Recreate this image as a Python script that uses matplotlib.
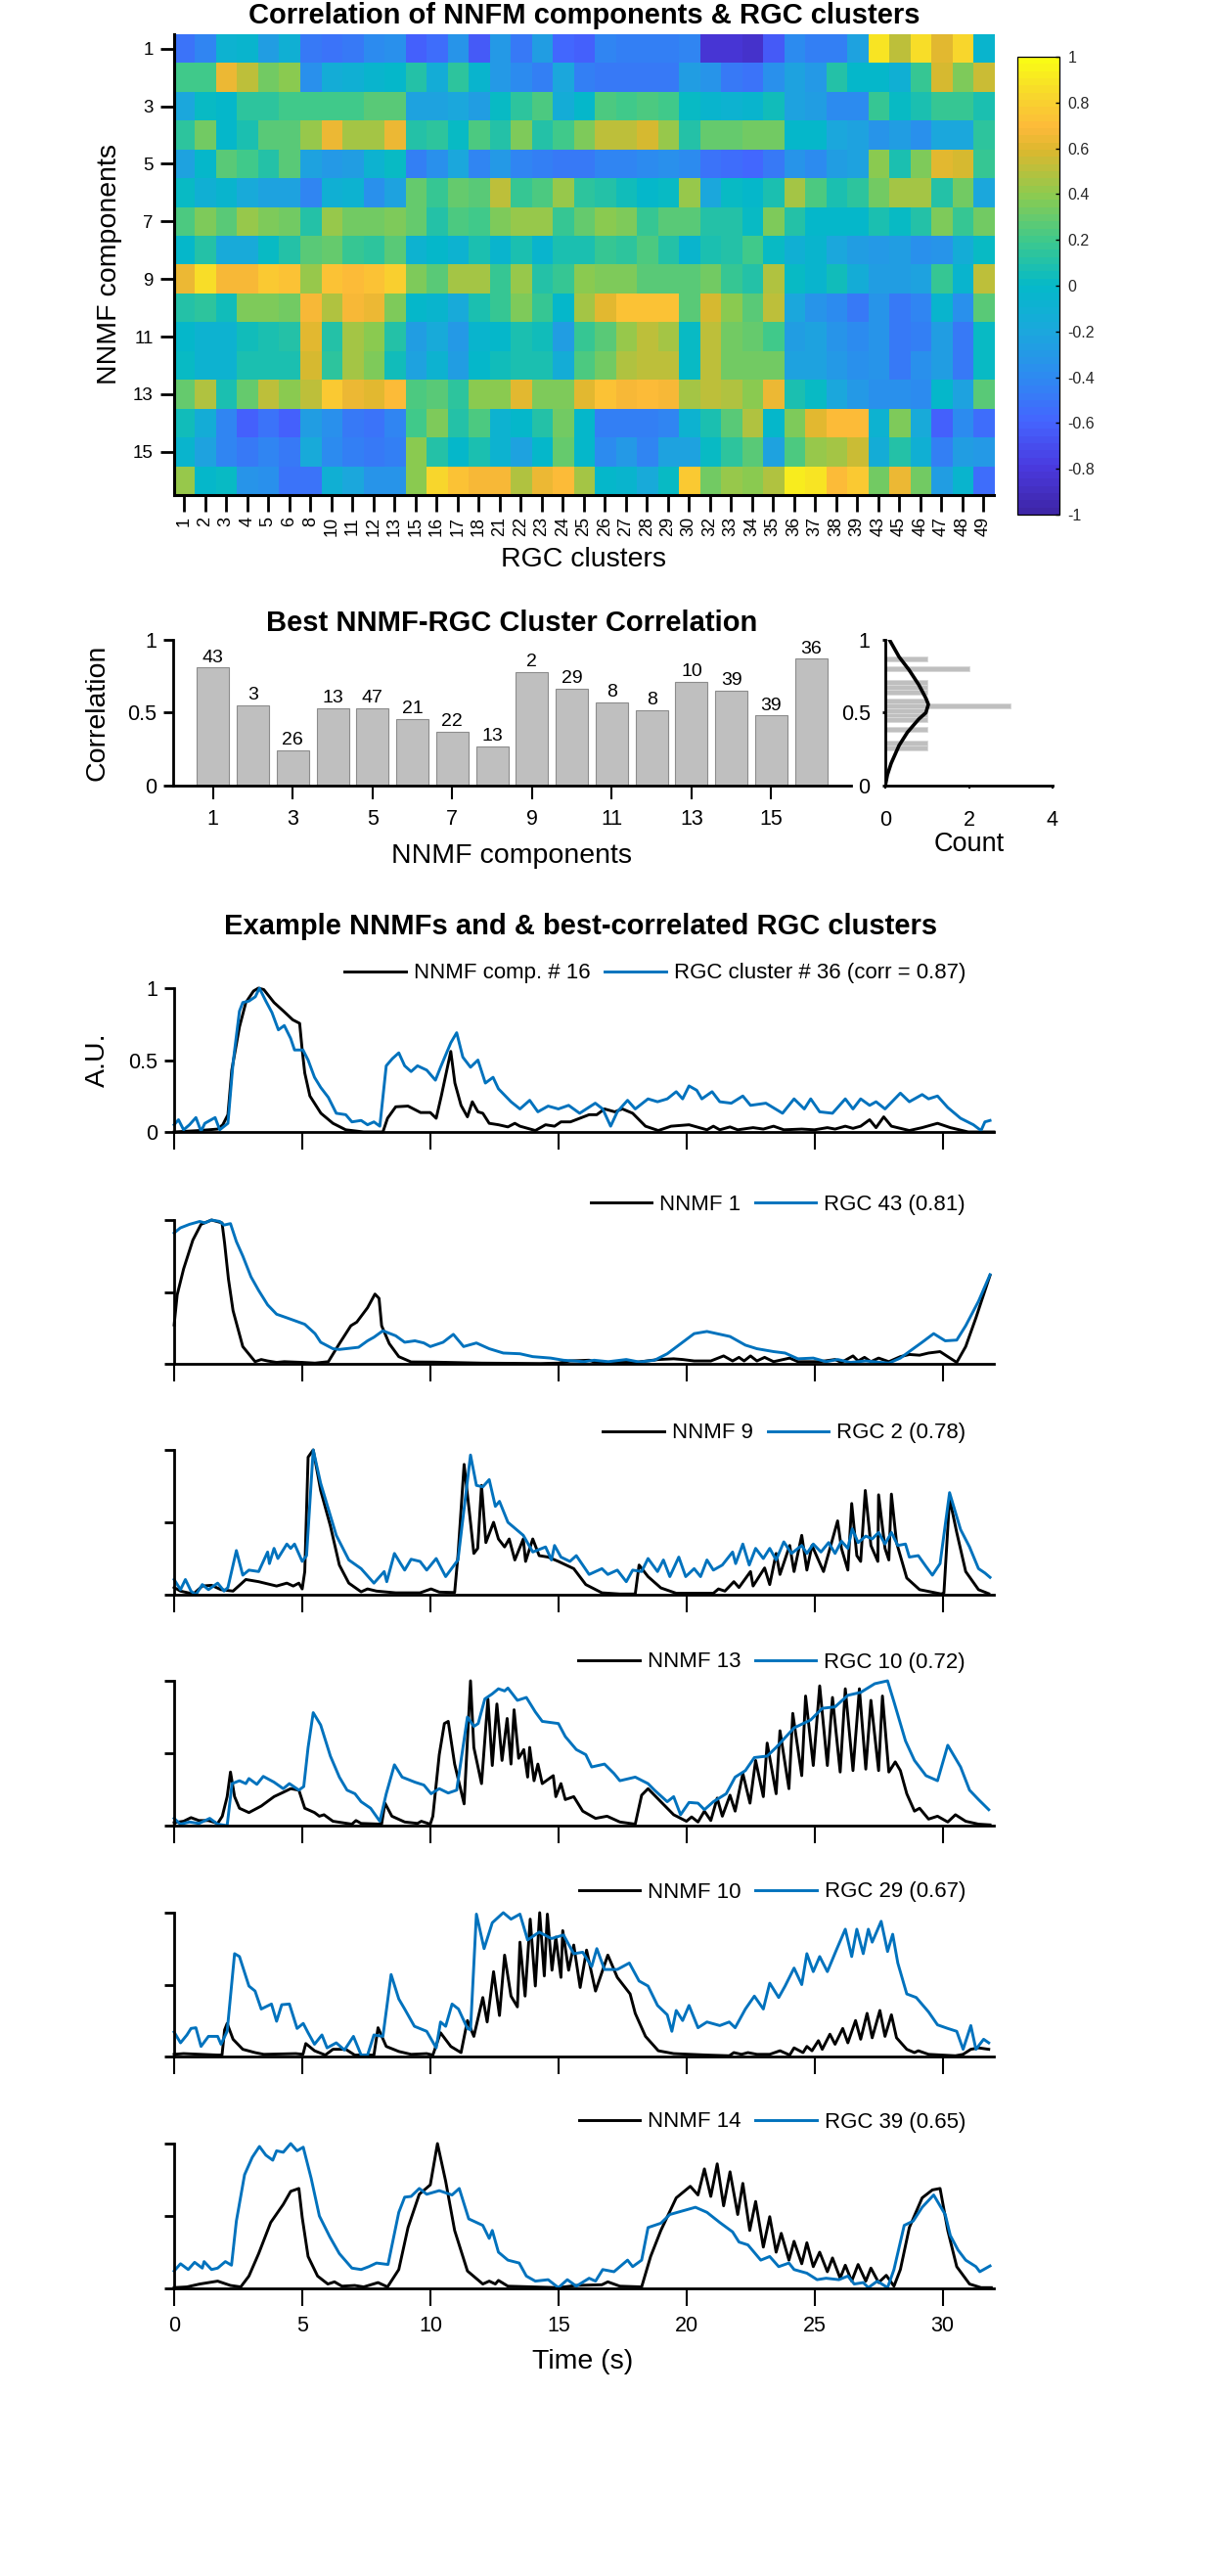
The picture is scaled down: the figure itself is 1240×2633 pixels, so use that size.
import numpy as np
import matplotlib
matplotlib.use("Agg")
import matplotlib.pyplot as plt
from matplotlib.colors import LinearSegmentedColormap

plt.rcParams['font.family'] = ['Liberation Sans', 'DejaVu Sans']

W, H = 1240, 2633
BLUE = '#0072BD'

# ==================== DATA ====================
rgc_clusters = [1, 2, 3, 4, 5, 6, 8, 10, 11, 12, 13, 15, 16, 17, 18, 21, 22, 23, 24, 25,
                26, 27, 28, 29, 30, 32, 33, 34, 35, 36, 37, 38, 39, 43, 45, 46, 47, 48, 49]

corr_rows = [
    [-.52, -.42, -.08, -.05, -.27, -.1, -.48, -.52, -.5, -.4, -.35, -.62, -.55, -.33, -.65, -.3, -.5, -.27, -.58, -.62, -.43, -.46, -.46, -.44, -.43, -.82, -.83, -.85, -.63, -.4, -.45, -.45, -.25, .88, .5, .87, .62, .83, -.06],
    [.2, .2, .64, .52, .33, .4, -.35, -.15, -.1, -.05, -.03, .1, -.15, .15, -.05, -.3, -.38, -.45, -.2, -.45, -.48, -.5, -.5, -.5, -.28, -.33, -.48, -.53, -.35, -.22, -.3, .12, -.02, -.03, -.1, .17, .57, .35, .56],
    [-.2, .02, -.03, .13, .15, .2, .2, .2, .2, .25, .28, -.25, -.22, -.2, -.28, .03, .15, .22, -.15, -.02, .24, .2, .24, .2, 0, -.05, -.08, -.06, .05, -.25, -.27, -.38, -.38, .18, 0, .08, .17, .17, .08],
    [.13, .34, -.02, .08, .27, .27, .42, .63, .45, .45, .63, .1, .14, .03, .24, .12, .35, .1, .2, .35, .53, .5, .58, .42, .12, .3, .3, .33, .32, -.02, -.02, -.2, -.22, -.33, -.27, -.36, -.2, -.2, .15],
    [-.25, -.02, .28, .2, .1, .27, -.22, -.3, -.28, -.08, 0, -.45, -.37, -.2, -.42, -.3, -.42, -.45, -.48, -.5, -.43, -.42, -.4, -.37, -.38, -.53, -.55, -.58, -.5, -.33, -.4, -.27, -.25, .38, .08, .37, .62, .57, .18],
    [.03, -.1, -.06, -.17, -.25, -.22, -.42, -.1, -.07, -.35, -.25, .3, .17, .3, .26, .52, .17, .22, .42, .15, .1, .05, -.02, .03, .42, -.2, 0, -.02, .07, .45, .22, .08, .14, .33, .45, .45, .1, .33, -.2],
    [.23, .37, .25, .41, .37, .33, .1, .41, .34, .34, .37, .3, .1, .22, .2, .37, .41, .43, .18, .3, .4, .35, .18, .28, .28, .1, .1, 0, .35, .1, -.02, -.02, -.03, .08, .03, .12, .36, .18, .34],
    [-.03, .1, -.18, -.18, .02, .1, .27, .3, .18, .13, .28, -.07, -.02, -.08, .08, -.04, .08, -.05, .08, .08, .18, .13, .24, .1, -.05, .07, .12, .2, .03, -.1, -.04, -.2, -.27, -.3, -.27, -.35, -.33, -.15, .02],
    [.64, .85, .68, .66, .76, .72, .42, .72, .7, .72, .8, .37, .26, .44, .44, .18, .42, .12, .18, .38, .35, .35, .27, .28, .25, .33, .18, .1, .47, .02, -.05, .05, -.15, -.28, -.27, -.22, .18, -.06, .52],
    [.1, .14, .05, .37, .37, .33, .68, .47, .66, .63, .36, -.02, -.06, -.18, .07, .18, .37, .18, -.02, .45, .62, .72, .72, .72, .26, .58, .38, .28, .5, -.2, -.32, -.38, -.47, -.33, -.5, -.42, -.05, -.35, .25],
    [-.03, -.08, -.08, .04, .08, .1, .62, .12, .44, .38, .1, -.28, -.18, -.3, -.04, -.02, .07, .05, -.28, .18, .25, .42, .5, .46, .03, .5, .33, .31, .2, -.27, -.22, -.33, -.38, -.32, -.5, -.44, -.27, -.5, .03],
    [0, -.08, -.08, .07, .07, .07, .57, .13, .44, .35, .06, -.22, -.08, -.28, -.03, .04, .07, .07, -.15, .24, .33, .48, .51, .5, .03, .5, .33, .33, .33, -.22, -.22, -.3, -.35, -.33, -.47, -.35, -.28, -.47, .03],
    [.3, .49, .07, .3, .53, .38, .53, .75, .63, .6, .7, .22, .25, .13, .38, .38, .6, .35, .35, .62, .74, .66, .7, .67, .45, .52, .48, .4, .63, .07, 0, -.2, -.3, -.37, -.35, -.38, -.03, -.25, .27],
    [.05, -.15, -.42, -.6, -.52, -.6, -.28, -.37, -.47, -.52, -.42, .2, .36, .12, .22, -.07, -.02, .12, .33, -.02, -.45, -.45, -.45, -.42, -.07, .08, .25, .48, -.03, .35, .62, .7, .7, -.08, .36, -.18, -.6, -.4, -.55],
    [-.06, -.25, -.42, -.5, -.42, -.47, -.17, -.4, -.45, -.5, -.45, .4, .12, -.02, .07, -.07, -.25, -.02, .3, -.02, -.38, -.3, -.42, -.25, -.25, .02, .14, .27, -.22, .22, .42, .44, .55, -.13, .12, -.12, -.45, -.28, -.3],
    [.43, -.02, 0, -.33, -.37, -.53, -.52, -.1, -.2, -.32, -.33, .4, .83, .74, .67, .67, .47, .63, .7, .44, -.02, -.04, -.18, 0, .75, .32, .42, .4, .48, .93, .9, .7, .76, .32, .63, .32, -.28, -.04, -.55],
]

# colorbar levels
cbar_levels = [-1, -.8, -.6, -.4, -.2, 0, .2, .4, .6, .7, .85, 1]
cbar_colors = ['#3e26a8', '#4a3ae0', '#4465ff', '#2d8bf0', '#1ba8dc', '#04b9c9',
               '#3ec98c', '#8ccb50', '#dcb82e', '#fdb93a', '#f8d82c', '#f9fb15']

best_corr = [.81, .55, .24, .53, .53, .455, .37, .27, .78, .665, .57, .52, .71, .65, .48, .87]
best_labels = [43, 3, 26, 13, 47, 21, 22, 13, 2, 29, 8, 8, 10, 39, 39, 36]

hist_centers = [.26, .293, .383, .45, .483, .516, .546, .58, .642, .675, .708, .805, .87]
hist_counts = [1, 1, 1, 1, 1, 1, 3, 1, 1, 1, 1, 2, 1]
kde_count = [.1, .33, .57, .8, .97, 1.03, .97, .8, .53, .33, .14, .05, 0]
kde_y = [1.0, .883, .793, .692, .6, .557, .5, .456, .366, .276, .153, .074, 0]

nnmf16 = [(0, 0), (1, .01), (1.7, .02), (1.9, .05), (2.1, .12), (2.25, .43), (2.55, .73), (2.8, .9), (3.1, .98), (3.29, 1), (3.5, .99), (3.9, .9), (4.27, .84), (4.63, .78), (4.9, .755), (5, .57), (5.1, .41), (5.3, .25), (5.73, .13), (6.2, .06), (6.7, .015), (7.4, 0), (8.15, 0), (8.33, .095), (8.65, .175), (9.13, .18), (9.62, .135), (10, .135), (10.23, .095), (10.43, .25), (10.8, .56), (10.96, .34), (11.2, .185), (11.45, .105), (11.64, .21), (11.86, .14), (12.05, .13), (12.3, .06), (12.66, .05), (13.03, .035), (13.3, .06), (13.5, .04), (14.1, .01), (14.5, .05), (14.85, .04), (15.1, .07), (15.47, .07), (16.2, .12), (16.5, .12), (16.8, .16), (17.2, .14), (17.5, .16), (17.9, .13), (18.4, .04), (18.9, .01), (19.4, .04), (20.1, .05), (20.8, .015), (21.05, .04), (21.3, .015), (21.7, .035), (22, .015), (22.6, .03), (23, .02), (23.4, .04), (23.8, .015), (24.5, .02), (25, .015), (25.5, .03), (25.8, .02), (26.2, .04), (26.5, .025), (26.8, .04), (27.15, .085), (27.4, .03), (27.7, .105), (28, .04), (28.7, .01), (29.2, .03), (29.8, .06), (30.3, .03), (31, 0), (32, 0)]
rgc36 = [(0, .05), (.17, .085), (.37, .015), (.6, .05), (.85, .1), (1.05, .005), (1.2, .06), (1.6, .1), (1.78, .015), (2.1, .06), (2.3, .48), (2.55, .84), (2.68, .9), (2.92, .91), (3.17, .94), (3.33, 1), (3.58, .91), (3.82, .83), (4.07, .71), (4.3, .74), (4.55, .65), (4.7, .57), (5.03, .57), (5.23, .5), (5.48, .38), (5.72, .31), (6.02, .24), (6.33, .13), (6.7, .12), (6.94, .07), (7.3, .08), (7.55, .05), (7.8, .07), (8.03, .04), (8.28, .46), (8.52, .51), (8.77, .55), (9, .46), (9.25, .42), (9.5, .46), (9.86, .43), (10.2, .36), (10.4, .45), (10.8, .62), (11.03, .69), (11.27, .52), (11.57, .45), (11.86, .5), (12.15, .34), (12.45, .38), (12.66, .3), (13.15, .21), (13.5, .16), (13.88, .22), (14.2, .14), (14.6, .18), (15, .16), (15.4, .185), (15.83, .13), (16.44, .2), (16.73, .16), (17.04, .04), (17.3, .14), (17.7, .22), (18, .16), (18.5, .23), (18.87, .21), (19.25, .23), (19.6, .28), (19.85, .23), (20.1, .32), (20.4, .29), (20.6, .23), (21, .28), (21.3, .21), (21.75, .2), (22.2, .25), (22.5, .185), (23.1, .2), (23.75, .13), (24.2, .23), (24.6, .16), (24.85, .23), (25.2, .14), (25.7, .13), (26.2, .23), (26.5, .16), (26.8, .23), (27.15, .185), (27.4, .21), (27.75, .16), (28.35, .27), (28.7, .21), (29.2, .26), (29.45, .23), (29.8, .25), (30.2, .17), (30.7, .095), (31.2, .05), (31.5, .01), (31.65, .07), (31.85, .08)]

nnmf1 = [(0, .27), (.12, .48), (.37, .66), (.73, .86), (1.05, .97), (1.46, 1), (1.87, .98), (1.97, .84), (2.12, .59), (2.3, .37), (2.68, .12), (3.16, .015), (3.4, .03), (3.65, .02), (4, .01), (4.3, .015), (5, .01), (5.5, .005), (6.02, .015), (6.45, .14), (6.9, .265), (7.13, .29), (7.55, .39), (7.84, .485), (8, .455), (8.1, .265), (8.4, .14), (8.77, .05), (9.25, .013), (10.1, .012), (12, .005), (14.3, .002), (15, .005), (15.45, .02), (16.2, .025), (16.4, .013), (17, .01), (18, .01), (18.9, .03), (19.5, .035), (19.85, .03), (20.3, .02), (20.95, .02), (21.45, .055), (21.8, .02), (22.05, .045), (22.25, .02), (22.5, .055), (22.75, .02), (23.05, .045), (23.4, .015), (24.03, .04), (24.35, .015), (25.2, .015), (25.8, .03), (26.05, .01), (26.5, .055), (26.7, .02), (26.95, .045), (27.2, .015), (27.5, .04), (27.9, .015), (28.35, .05), (28.7, .065), (29.1, .06), (29.45, .075), (29.9, .085), (30.2, .05), (30.55, .01), (30.9, .12), (31.3, .32), (31.55, .455), (31.85, .615)]
rgc43 = [(0, .91), (.24, .945), (.6, .97), (1, .99), (1.2, .98), (1.46, 1), (1.78, .99), (1.95, .965), (2.2, .975), (2.43, .85), (2.68, .75), (3, .605), (3.3, .51), (3.65, .41), (4, .345), (4.4, .32), (5.1, .275), (5.5, .21), (5.72, .15), (6.2, .105), (6.45, .1), (7.2, .115), (7.55, .16), (7.8, .185), (8.15, .23), (8.65, .195), (9, .15), (9.4, .16), (9.75, .145), (10, .12), (10.5, .15), (10.9, .205), (11.3, .12), (11.8, .145), (12.3, .105), (12.85, .075), (13.5, .07), (14, .05), (14.7, .04), (15.2, .025), (16, .015), (16.4, .025), (16.95, .015), (17.65, .03), (18.15, .013), (18.75, .025), (19.25, .07), (19.85, .15), (20.3, .21), (20.8, .225), (21.7, .19), (22.3, .13), (22.75, .105), (23.4, .085), (23.85, .075), (24.35, .035), (24.95, .04), (25.45, .015), (25.9, .03), (26.4, .01), (27, .02), (27.9, .005), (28.35, .04), (28.85, .105), (29.2, .15), (29.65, .21), (30.1, .16), (30.55, .165), (30.9, .265), (31.4, .435), (31.85, .62)]

nnmf9 = [(0, .05), (.25, .025), (.75, .005), (1.1, .06), (1.46, .065), (1.83, .035), (2.3, .025), (2.8, .105), (3.3, .09), (4, .06), (4.4, .08), (4.65, .06), (4.87, .08), (5, .04), (5.1, .16), (5.23, .95), (5.43, 1), (5.72, .72), (6.1, .475), (6.45, .205), (6.82, .08), (7.3, .02), (7.55, .04), (7.9, .025), (8.65, .013), (9.6, .013), (10.03, .04), (10.35, .018), (10.95, .015), (11.08, .27), (11.32, .9), (11.57, .5), (11.7, .285), (11.85, .32), (12, .755), (12.17, .36), (12.47, .5), (12.66, .385), (12.9, .33), (13.08, .385), (13.3, .24), (13.63, .385), (13.72, .23), (14, .385), (14.25, .27), (14.6, .26), (15, .23), (15.6, .18), (16.07, .07), (16.7, .013), (17.4, .005), (18, .005), (18.15, .205), (18.5, .125), (19, .047), (19.6, .01), (21.05, .01), (21.25, .04), (21.5, .025), (21.85, .09), (22.05, .05), (22.5, .16), (22.6, .06), (23.05, .185), (23.25, .07), (23.5, .285), (23.65, .14), (24.03, .34), (24.2, .16), (24.5, .41), (24.7, .17), (24.9, .34), (25.35, .16), (25.9, .51), (26.05, .32), (26.3, .17), (26.45, .63), (26.65, .27), (26.8, .23), (26.98, .72), (27.2, .34), (27.47, .23), (27.5, .69), (27.75, .32), (27.9, .24), (28, .695), (28.2, .36), (28.6, .115), (29.1, .035), (29.95, .005), (30.05, .013), (30.27, .665), (30.55, .43), (30.9, .16), (31.4, .035), (31.8, .007)]
rgc2 = [(0, .105), (.25, .035), (.44, .105), (.66, .025), (.85, 0), (1.1, .07), (1.34, .035), (1.7, .08), (1.95, .025), (2.1, .05), (2.43, .305), (2.68, .135), (2.92, .17), (3.3, .16), (3.65, .295), (3.72, .215), (3.9, .32), (4.05, .25), (4.4, .35), (4.55, .32), (4.7, .35), (5, .23), (5.17, .27), (5.43, 1), (5.72, .77), (6.33, .41), (6.82, .24), (7.3, .18), (7.8, .08), (8.2, .16), (8.3, .09), (8.6, .285), (8.84, .215), (9, .17), (9.25, .245), (9.6, .23), (9.86, .17), (10.23, .25), (10.6, .125), (11.08, .24), (11.57, .965), (11.8, .755), (12.05, .745), (12.3, .795), (12.54, .61), (12.7, .645), (13.03, .5), (13.63, .41), (14, .295), (14.5, .33), (14.73, .24), (14.85, .34), (15.1, .26), (15.45, .23), (15.7, .27), (16.2, .14), (16.7, .18), (16.93, .14), (17.3, .17), (17.65, .09), (17.9, .17), (18.25, .16), (18.5, .25), (18.87, .16), (19.1, .24), (19.35, .125), (19.7, .26), (19.97, .125), (20.3, .18), (20.55, .125), (20.8, .24), (21.05, .17), (21.4, .205), (21.8, .295), (21.92, .215), (22.2, .35), (22.45, .205), (22.7, .32), (23, .25), (23.25, .32), (23.5, .24), (23.8, .365), (24.1, .285), (24.5, .34), (24.7, .285), (24.95, .35), (25.25, .295), (25.55, .36), (25.8, .285), (26.05, .37), (26.3, .32), (26.47, .455), (26.7, .36), (27, .405), (27.25, .385), (27.5, .43), (27.75, .35), (28, .43), (28.25, .34), (28.55, .35), (28.7, .26), (29.05, .27), (29.35, .195), (29.6, .135), (29.9, .215), (30.27, .705), (30.7, .45), (31.05, .33), (31.4, .18), (31.65, .15), (31.85, .12)]

nnmf13 = [(0, .02), (.37, .03), (.66, .055), (.97, .035), (1.34, .035), (1.7, .015), (1.88, .065), (2.07, .2), (2.2, .37), (2.36, .2), (2.55, .12), (2.92, .09), (3.4, .135), (3.9, .2), (4.26, .23), (4.55, .255), (4.87, .245), (5.1, .12), (5.48, .09), (5.67, .065), (5.85, .075), (6.2, .03), (6.94, .01), (7.1, .035), (7.3, .015), (8.1, .01), (8.23, .155), (8.5, .065), (9, .025), (9.5, .015), (9.65, .03), (10, .01), (10.1, .065), (10.35, .49), (10.55, .705), (10.7, .72), (10.95, .425), (11.32, .15), (11.57, 1), (11.7, .54), (12, .29), (12.25, .875), (12.42, .415), (12.6, .84), (12.8, .45), (13, .74), (13.15, .425), (13.27, .8), (13.45, .465), (13.65, .525), (13.8, .335), (13.88, .54), (14.05, .31), (14.2, .425), (14.37, .29), (14.8, .345), (14.9, .2), (15.1, .29), (15.27, .18), (15.6, .2), (15.95, .1), (16.45, .05), (16.9, .065), (17.4, .025), (18, .01), (18.25, .21), (18.5, .255), (19, .165), (19.5, .075), (20, .03), (20.2, .06), (20.45, .025), (20.7, .1), (20.95, .035), (21.2, .19), (21.4, .065), (21.7, .21), (21.9, .1), (22.2, .36), (22.48, .155), (22.7, .45), (23, .2), (23.15, .57), (23.5, .22), (23.65, .655), (24, .255), (24.15, .775), (24.5, .345), (24.65, .895), (24.95, .415), (25.2, .965), (25.5, .415), (25.7, .885), (26, .37), (26.2, .945), (26.5, .38), (26.75, .945), (27, .39), (27.2, .865), (27.5, .38), (27.65, .895), (27.9, .37), (28.15, .44), (28.35, .38), (28.6, .22), (28.9, .1), (29.1, .12), (29.45, .045), (29.8, .065), (30.2, .025), (30.5, .075), (30.9, .03), (31.4, .01), (31.85, .005)]
rgc10 = [(0, .05), (.24, .01), (.6, .025), (.97, .015), (1.39, .05), (1.7, .01), (2.07, 0), (2.26, .29), (2.55, .31), (2.8, .29), (2.92, .325), (3.23, .285), (3.48, .34), (3.9, .3), (4.26, .255), (4.5, .29), (4.87, .245), (5.06, .27), (5.23, .54), (5.43, .78), (5.72, .695), (6.1, .48), (6.45, .335), (6.75, .245), (7.06, .22), (7.3, .165), (7.67, .12), (8.03, .03), (8.28, .22), (8.6, .42), (8.9, .335), (9.4, .3), (9.75, .28), (10.03, .22), (10.35, .255), (10.7, .225), (11.03, .245), (11.45, .75), (11.7, .685), (11.87, .705), (12.13, .875), (12.42, .91), (12.66, .945), (12.9, .93), (13.03, .95), (13.4, .865), (13.75, .885), (14.1, .785), (14.37, .72), (15, .705), (15.27, .615), (15.7, .525), (16.07, .49), (16.3, .405), (16.8, .425), (17.17, .36), (17.4, .31), (18, .335), (18.5, .29), (18.75, .245), (19.25, .165), (19.5, .2), (19.77, .075), (20.1, .16), (20.45, .155), (20.7, .11), (21.05, .165), (21.55, .22), (21.9, .335), (22.3, .38), (22.65, .47), (23.15, .48), (23.5, .54), (24.2, .675), (24.85, .73), (25.3, .81), (25.8, .82), (26.3, .9), (26.8, .92), (27.35, .98), (27.85, 1), (28.1, .855), (28.55, .585), (28.9, .45), (29.35, .345), (29.8, .31), (30.2, .555), (30.7, .405), (31.05, .245), (31.4, .18), (31.8, .11)]

nnmf10 = [(0, .015), (.37, .02), (1.7, .01), (1.87, .01), (1.97, .185), (2.07, .23), (2.3, .12), (2.68, .05), (3.16, .027), (3.5, .015), (4.75, .02), (5.03, .015), (5.14, .09), (5.48, .04), (5.9, .01), (6.2, .05), (6.7, .05), (7.05, .01), (7.8, .01), (7.96, .2), (8.28, .07), (8.77, .035), (9.25, .015), (9.86, .02), (10.1, .01), (10.4, .165), (10.8, .07), (11.2, .027), (11.45, .25), (11.7, .14), (12.05, .41), (12.22, .24), (12.47, .59), (12.7, .285), (12.9, .705), (13.15, .42), (13.4, .345), (13.5, .795), (13.7, .42), (13.9, .955), (14.1, .49), (14.27, 1), (14.45, .56), (14.57, .99), (14.75, .6), (14.9, .83), (15.1, .55), (15.17, .875), (15.4, .6), (15.6, .775), (15.85, .48), (16.1, .74), (16.45, .455), (16.93, .705), (17.3, .55), (17.8, .435), (18, .3), (18.4, .14), (18.9, .04), (19.5, .02), (20.8, .01), (21.67, .005), (21.85, .027), (22.15, .015), (22.4, .027), (22.75, .015), (23.25, .015), (23.65, .04), (24.03, .01), (24.2, .06), (24.55, .027), (24.7, .07), (24.9, .04), (25.15, .11), (25.3, .05), (25.6, .155), (25.8, .085), (26.1, .195), (26.3, .095), (26.6, .25), (26.8, .12), (27.05, .3), (27.25, .13), (27.55, .32), (27.75, .14), (28, .29), (28.2, .13), (28.6, .05), (28.9, .027), (29.05, .04), (29.45, .015), (30.5, .005), (30.8, .015), (31.1, .05), (31.4, .06), (31.8, .05)]
rgc29 = [(0, .17), (.25, .095), (.5, .15), (.66, .195), (.85, .2), (1.05, .07), (1.34, .14), (1.7, .14), (1.83, .085), (2.07, .175), (2.36, .715), (2.55, .695), (2.92, .49), (3.16, .455), (3.4, .33), (3.8, .365), (4, .245), (4.2, .36), (4.5, .365), (4.8, .195), (5.04, .23), (5.23, .165), (5.48, .085), (5.77, .15), (5.97, .06), (6.33, .095), (6.65, .045), (7, .14), (7.3, .01), (7.55, .01), (7.8, .15), (8.15, .14), (8.47, .57), (8.77, .4), (9, .33), (9.38, .21), (9.86, .175), (10.23, .06), (10.4, .24), (10.6, .21), (10.85, .365), (11.1, .33), (11.45, .195), (11.57, .185), (11.8, .99), (12.1, .75), (12.42, .93), (12.85, 1), (13.15, .955), (13.5, .99), (13.8, .81), (14.25, .865), (14.73, .82), (15.2, .845), (15.6, .715), (15.95, .725), (16.3, .625), (16.5, .75), (16.8, .605), (17.3, .605), (17.77, .65), (18.15, .525), (18.5, .49), (18.87, .355), (19.25, .29), (19.43, .175), (19.6, .32), (19.85, .25), (20.1, .355), (20.45, .2), (20.8, .24), (21.3, .215), (21.67, .24), (21.9, .2), (22.3, .33), (22.65, .42), (23, .33), (23.25, .51), (23.6, .41), (23.85, .49), (24.2, .615), (24.5, .5), (24.7, .715), (24.95, .59), (25.2, .695), (25.5, .59), (25.85, .74), (26.2, .885), (26.45, .695), (26.65, .885), (26.9, .715), (27.1, .885), (27.25, .795), (27.6, .94), (27.85, .73), (28.05, .85), (28.25, .65), (28.6, .435), (28.97, .41), (29.45, .31), (29.8, .22), (30.2, .195), (30.55, .175), (30.8, .05), (31.1, .215), (31.3, .05), (31.6, .12), (31.8, .095)]

nnmf14 = [(0, .005), (.5, .01), (1, .03), (1.7, .05), (2.2, .02), (2.6, .01), (2.92, .085), (3.3, .24), (3.77, .455), (4.26, .58), (4.55, .67), (4.87, .69), (5, .49), (5.23, .22), (5.6, .085), (6, .03), (6.26, .045), (6.55, .015), (7.05, .02), (7.4, .01), (7.96, .04), (8.33, .01), (8.77, .13), (9.13, .42), (9.57, .65), (10, .715), (10.28, 1), (10.6, .74), (10.95, .4), (11.45, .12), (12.05, .03), (12.3, .05), (12.54, .03), (12.66, .055), (13.03, .015), (15, .005), (15.7, .02), (16.7, .025), (16.93, .045), (17.4, .015), (18.25, .01), (18.6, .22), (19, .4), (19.6, .625), (20.15, .705), (20.45, .645), (20.7, .825), (20.95, .635), (21.2, .86), (21.45, .57), (21.7, .805), (22, .51), (22.2, .725), (22.47, .4), (22.7, .6), (23, .285), (23.25, .495), (23.5, .25), (23.7, .38), (24, .195), (24.2, .325), (24.5, .17), (24.7, .315), (24.95, .15), (25.2, .25), (25.5, .115), (25.7, .21), (26, .07), (26.2, .16), (26.45, .05), (26.7, .165), (27, .05), (27.2, .14), (27.5, .04), (27.8, .09), (28.1, .015), (28.35, .13), (28.7, .42), (29.2, .625), (29.6, .68), (29.9, .69), (30.2, .4), (30.55, .15), (31.05, .03), (31.5, .005), (31.9, .005)]
rgc39 = [(0, .12), (.25, .17), (.55, .13), (.8, .18), (1.1, .14), (1.17, .185), (1.46, .13), (1.7, .14), (2, .185), (2.24, .16), (2.43, .465), (2.75, .785), (3.05, .905), (3.33, .98), (3.58, .92), (3.85, .885), (4, .95), (4.26, .94), (4.55, 1), (4.8, .95), (5.04, .975), (5.35, .76), (5.67, .5), (6.08, .355), (6.45, .24), (6.94, .14), (7.3, .13), (7.6, .15), (7.9, .175), (8.35, .165), (8.77, .525), (9, .63), (9.25, .635), (9.57, .69), (9.86, .65), (10.35, .675), (10.85, .645), (11.13, .69), (11.5, .48), (12.05, .435), (12.3, .345), (12.42, .4), (12.66, .25), (13.03, .195), (13.47, .175), (13.75, .085), (14.1, .05), (14.6, .06), (15, .005), (15.35, .06), (15.7, .015), (16.2, .07), (16.45, .05), (16.73, .13), (17.17, .115), (17.7, .195), (17.9, .15), (18.25, .195), (18.5, .42), (19, .45), (19.35, .51), (19.85, .535), (20.35, .56), (20.8, .525), (21.3, .455), (21.8, .39), (22.05, .32), (22.4, .3), (22.9, .195), (23.25, .22), (23.6, .15), (24, .175), (24.2, .13), (24.7, .105), (25.1, .06), (25.45, .07), (25.95, .06), (26.3, .085), (26.55, .03), (26.9, .04), (27.1, .005), (27.45, .05), (27.85, .005), (28.1, .13), (28.5, .435), (28.85, .465), (29.2, .56), (29.65, .645), (30.1, .51), (30.3, .365), (30.6, .265), (30.9, .195), (31.3, .15), (31.45, .115), (31.85, .155)]

panels = [
    (nnmf16, rgc36, 'NNMF comp. # 16', 'RGC cluster # 36 (corr = 0.87)'),
    (nnmf1, rgc43, 'NNMF 1', 'RGC 43 (0.81)'),
    (nnmf9, rgc2, 'NNMF 9', 'RGC 2 (0.78)'),
    (nnmf13, rgc10, 'NNMF 13', 'RGC 10 (0.72)'),
    (nnmf10, rgc29, 'NNMF 10', 'RGC 29 (0.67)'),
    (nnmf14, rgc39, 'NNMF 14', 'RGC 39 (0.65)'),
]
panel_tops = [1010, 1247, 1482, 1718, 1955, 2191]
panel_bottoms = [1157, 1394, 1630, 1866, 2102, 2339]
legend_ys = [995, 1231, 1465, 1699, 1934, 2169]


# ==================== HELPERS ====================
def px_axes(fig, left, top, right, bottom):
    return fig.add_axes([left / W, 1 - bottom / H, (right - left) / W, (bottom - top) / H])


def px_text(fig, x, y, s, **kw):
    kw.setdefault('ha', 'center')
    kw.setdefault('va', 'center')
    fig.text(x / W, 1 - y / H, s, **kw)


def style_axes(ax, xlen=10, ylen=7):
    ax.spines[['top', 'right']].set_visible(False)
    ax.spines[['left', 'bottom']].set_linewidth(2)
    ax.tick_params(axis='x', length=xlen, width=1.5, labelsize=15.5, pad=7)
    ax.tick_params(axis='y', length=ylen, width=2, labelsize=15.5, pad=5)


fig = plt.figure(figsize=(W / 100, H / 100), dpi=100)

# ==================== HEATMAP ====================
cmap = LinearSegmentedColormap.from_list(
    'parula_like', [((v + 1) / 2, c) for v, c in zip(cbar_levels, cbar_colors)], N=64)
corr = np.array(corr_rows)

ax = px_axes(fig, 177.5, 35, 1016, 506)
im = ax.imshow(corr, cmap=cmap, vmin=-1, vmax=1, aspect='auto', interpolation='nearest')
style_axes(ax, 12, 10)
ax.spines[['left', 'bottom']].set_linewidth(2.2)
ax.set_xticks(range(len(rgc_clusters)))
ax.set_xticklabels(rgc_clusters, rotation=90, fontsize=13)
ax.set_yticks(range(0, 16, 2))
ax.set_yticklabels(range(1, 17, 2), fontsize=13.5)
ax.tick_params(axis='x', width=2, pad=4)
ax.tick_params(axis='y', width=2, pad=5)
px_text(fig, 597, 16, 'Correlation of NNFM components & RGC clusters', fontsize=21, fontweight='bold')
px_text(fig, 597, 572, 'RGC clusters', fontsize=20.5)
px_text(fig, 112, 270, 'NNMF components', fontsize=20.5, rotation=90)

cax = px_axes(fig, 1040, 58, 1083, 526)
cb = fig.colorbar(im, cax=cax)
cb.set_ticks(np.arange(-1, 1.01, .2))
cb.set_ticklabels(['-1', '-0.8', '-0.6', '-0.4', '-0.2', '0', '0.2', '0.4', '0.6', '0.8', '1'])
cax.tick_params(direction='in', length=3, width=1, labelsize=11.5, labelcolor='#262626', pad=6)
cb.outline.set_linewidth(.9)

# ==================== BEST CORRELATION BARS ====================
ax = px_axes(fig, 177, 654, 870, 803)
comps = np.arange(1, 17)
ax.bar(comps, best_corr, width=.81, color='#bfbfbf', edgecolor='#8c8c8c', linewidth=.8)
for c, v, lab in zip(comps, best_corr, best_labels):
    ax.text(c, v + .012, str(lab), ha='center', va='bottom', fontsize=14)
ax.set_xlim(0, 17)
ax.set_ylim(0, 1)
ax.set_xticks(range(1, 16, 2))
ax.set_yticks([0, .5, 1])
ax.set_yticklabels(['0', '0.5', '1'])
style_axes(ax)
px_text(fig, 523, 637, 'Best NNMF-RGC Cluster Correlation', fontsize=21, fontweight='bold')
px_text(fig, 523, 875, 'NNMF components', fontsize=20.5)
px_text(fig, 100, 728, 'Correlation', fontsize=20.5, rotation=90)

# histogram of the best correlations
ax = px_axes(fig, 905, 654, 1076, 803)
ax.barh(hist_centers, hist_counts, height=.033, color='#bfbfbf', edgecolor='#d9d9d9', linewidth=.6)
ax.plot(kde_count, kde_y, color='k', linewidth=2.6)
ax.set_xlim(0, 4)
ax.set_ylim(0, 1)
ax.set_xticks([0, 2, 4])
ax.set_yticks([0, .5, 1])
ax.set_yticklabels(['0', '0.5', '1'])
style_axes(ax, 2, 2)
ax.tick_params(axis='x', pad=16)
ax.tick_params(axis='y', pad=9)
px_text(fig, 991, 863, 'Count', fontsize=19.5)

# ==================== EXAMPLE TRACES ====================
px_text(fig, 594, 947, 'Example NNMFs and & best-correlated RGC clusters', fontsize=21, fontweight='bold')

for i, (black, blue, lab_k, lab_b) in enumerate(panels):
    ax = px_axes(fig, 178, panel_tops[i], 1016, panel_bottoms[i])
    tb, yb = zip(*blue)
    tk, yk = zip(*black)
    ax.plot(tk, yk, color='k', linewidth=2.1, label=lab_k, clip_on=False)
    ax.plot(tb, yb, color=BLUE, linewidth=2.1, label=lab_b, clip_on=False)
    ax.set_xlim(0, 32)
    ax.set_ylim(0, 1)
    ax.set_xticks(range(0, 31, 5))
    ax.set_yticks([0, .5, 1])
    style_axes(ax, 13, 7)
    ax.legend(loc='center right', bbox_to_anchor=(987 / W, 1 - legend_ys[i] / H), bbox_transform=fig.transFigure,
              ncol=2, frameon=False, fontsize=16, handlelength=2.8, handletextpad=.36, columnspacing=.68,
              borderpad=0, borderaxespad=0)
    if i == 0:
        ax.set_yticklabels(['0', '0.5', '1'])
    else:
        ax.set_yticklabels([])
    if i < 5:
        ax.set_xticklabels([])

px_text(fig, 100, 1083, 'A.U.', fontsize=20.5, rotation=90)
px_text(fig, 596, 2414, 'Time (s)', fontsize=20.5)

fig.savefig('out.png', dpi=100)
